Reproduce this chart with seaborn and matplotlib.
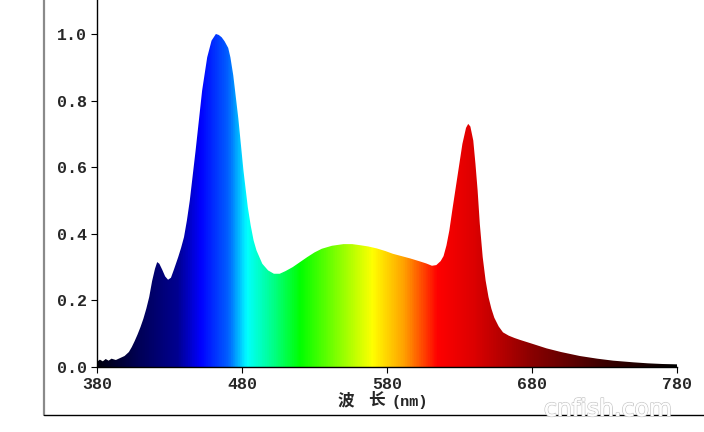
import numpy as np
import matplotlib
matplotlib.use("Agg")
import matplotlib.pyplot as plt
import seaborn as sns
from matplotlib.colors import LinearSegmentedColormap, Normalize
from matplotlib.lines import Line2D
import matplotlib.patheffects as pe

# --- data ---
wavelength = [380, 382, 384, 386, 388, 390, 393, 396, 399, 402, 404, 406, 408, 410, 412, 414,
              416, 418, 420, 421.5, 423, 425, 427, 429, 431, 433, 436, 438, 440, 442, 444,
              446, 448, 450, 452.5, 456, 459, 462, 464, 466, 468, 470.5, 472, 474, 477.5,
              481, 484, 486, 488, 490, 494, 498, 502, 506, 510, 515, 520, 525, 530, 535,
              542, 550, 556, 561, 567, 573, 579, 584, 590, 596, 602, 607, 611, 614, 617,
              619, 621, 623, 625, 628.5, 632, 634.5, 636, 637.5, 639.5, 641, 642.5, 644,
              646, 648, 650, 652, 654, 657, 660, 664, 668, 672, 680, 690, 700, 713, 725,
              736, 750, 760, 770, 780]
intensity = [0.016, 0.022, 0.017, 0.024, 0.019, 0.025, 0.021, 0.027, 0.033, 0.045, 0.060, 0.078,
             0.098, 0.120, 0.145, 0.175, 0.210, 0.258, 0.295, 0.315, 0.310, 0.292, 0.272,
             0.262, 0.268, 0.292, 0.330, 0.358, 0.390, 0.440, 0.500, 0.575, 0.650, 0.730,
             0.830, 0.930, 0.980, 1.000, 0.997, 0.990, 0.978, 0.958, 0.930, 0.875, 0.745,
             0.590, 0.480, 0.425, 0.380, 0.350, 0.310, 0.290, 0.280, 0.280, 0.288, 0.300,
             0.315, 0.330, 0.344, 0.355, 0.364, 0.369, 0.369, 0.366, 0.362, 0.356, 0.348,
             0.340, 0.333, 0.326, 0.318, 0.311, 0.304, 0.306, 0.318, 0.333, 0.365, 0.410,
             0.470, 0.570, 0.670, 0.718, 0.730, 0.722, 0.680, 0.610, 0.530, 0.430, 0.330,
             0.260, 0.210, 0.175, 0.148, 0.122, 0.104, 0.094, 0.087, 0.081, 0.070, 0.056,
             0.045, 0.033, 0.025, 0.019, 0.014, 0.011, 0.009, 0.008]

x_ticks = [380, 480, 580, 680, 780]
y_ticks = [0.0, 0.2, 0.4, 0.6, 0.8, 1.0]
y_tick_labels = ["0.0", "0.2", "0.4", "0.6", "0.8", "1.0"]

# spectral colour stops (wavelength, colour)
stop_wl = [380, 410, 435, 451, 470, 483, 500, 520, 545, 570, 592, 615, 640, 680, 730, 780]
stop_col = ["#000010", "#00005a", "#000090", "#0000ff", "#0060ff", "#00ffff", "#00ff90",
            "#00ff00", "#80ff00", "#ffff00", "#ffa000", "#ff0000", "#dd0000", "#8a0000",
            "#3c0000", "#000000"]

sns.set_style("white")
plt.rcParams["font.family"] = ["Liberation Mono", "DejaVu Sans Mono"]

W, H, DPI = 704, 432, 100
fig = plt.figure(figsize=(W / DPI, H / DPI), dpi=DPI)
ax = fig.add_axes([97 / W, 1 - 367 / H, (677 - 97) / W, 367 / H])

df_x = np.array(wavelength, dtype=float)
df_y = np.array(intensity, dtype=float)

sns.lineplot(x=df_x, y=df_y, ax=ax, lw=0)

xmin, xmax = 380, 780
ymax = 1.102
cmap = LinearSegmentedColormap.from_list(
    "spec", [((w - xmin) / (xmax - xmin), c) for w, c in zip(stop_wl, stop_col)])
poly = ax.fill_between(df_x, df_y, 0, facecolor="none", edgecolor="none")
grad = np.linspace(xmin, xmax, 1200).reshape(1, -1)
im = ax.imshow(grad, cmap=cmap, norm=Normalize(xmin, xmax), extent=[xmin, xmax, 0, ymax],
               aspect="auto", origin="lower", interpolation="bilinear", zorder=1)
im.set_clip_path(poly.get_paths()[0], transform=ax.transData)

ax.set_xlim(xmin, xmax)
ax.set_ylim(0, ymax)
ax.set_xticks(x_ticks)
ax.set_xticklabels([str(v) for v in x_ticks], fontsize=12, fontweight="bold")
ax.set_yticks(y_ticks)
ax.set_yticklabels(y_tick_labels, fontsize=12, fontweight="bold")
ax.tick_params(axis="both", direction="out", length=4, width=0.8, color="black",
               pad=3, left=True, bottom=True)
sns.despine(ax=ax)
for s in ["left", "bottom"]:
    ax.spines[s].set_color("black")
    ax.spines[s].set_linewidth(1.0)
ax.set_xlabel("")
ax.set_ylabel("")

# axis title
fig.text(346 / W, 1 - 400 / H, "波", family=["Noto Sans CJK SC", "DejaVu Sans"],
         fontsize=12, fontweight="bold", ha="center", va="center")
fig.text(376 / W, 1 - 400 / H, "长", family=["Noto Sans CJK SC", "DejaVu Sans"],
         fontsize=12, fontweight="bold", ha="center", va="center")
fig.text(410 / W, 1 - 402 / H, "(nm)", fontsize=11, fontweight="bold",
         ha="center", va="center")

# outer frame
fig.add_artist(Line2D([44 / W, 44 / W], [1 - 415 / H, 1.0], transform=fig.transFigure,
                      color="#8a8a8a", lw=1.6))
fig.add_artist(Line2D([44 / W, 1.0], [1 - 415 / H, 1 - 415 / H], transform=fig.transFigure,
                      color="black", lw=1.0))

# watermark
wm = fig.text(608 / W, 1 - 409 / H, "cnfish.com", fontsize=17, color="white",
              family=["DejaVu Sans"], ha="center", va="center", alpha=0.95)
wm.set_path_effects([pe.withStroke(linewidth=1.2, foreground="#c8c8c8"), pe.Normal()])

fig.savefig("out.png", dpi=DPI)
